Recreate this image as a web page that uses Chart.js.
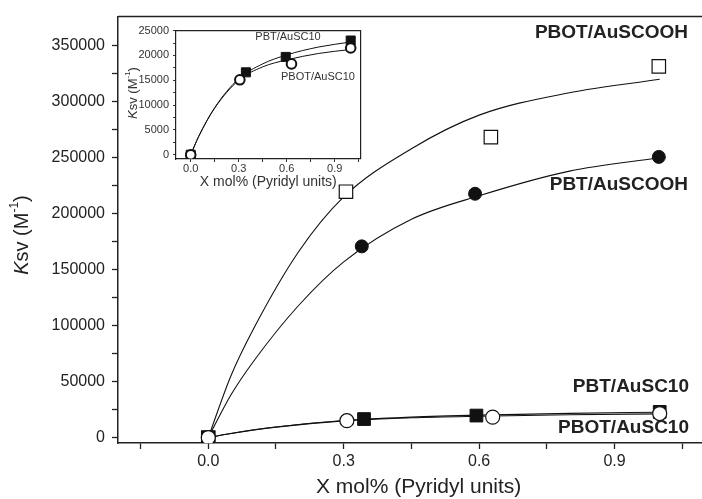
<!DOCTYPE html>
<html lang="en">
<head>
  <meta charset="UTF-8" />
  <title>Ksv vs pyridyl content</title>
  <script src="https://cdn.jsdelivr.net/npm/chart.js"></script>
  <style>
    html, body { margin: 0; padding: 0; background: #fff; overflow: hidden; }
    .wrap { position: relative; width: 730px; height: 499px; }
    #inset { position: absolute; left: 110px; top: 20px; }
  </style>
</head>
<body>

  <div class="wrap">
    <canvas id="main" width="730" height="499"></canvas>
    <canvas id="inset" width="258" height="175"></canvas>
  </div>

  <script>
    const FAMILY = '"Liberation Sans", Arial, sans-serif';

    // measured points
    const pbotCoohX = [0, 0.305, 0.626, 0.998];
    const pbotCoohY = [0, 219600, 268400, 331500];
    const pbtCoohX = [0, 0.34, 0.591, 0.998];
    const pbtCoohY = [0, 170800, 217800, 250700];
    const pbtC10X = [0, 0.345, 0.594, 1.0];
    const pbtC10Y = [0, 16600, 19700, 23000];
    const pbotC10X = [0, 0.307, 0.63, 1.0];
    const pbotC10Y = [0, 15100, 18300, 21500];

    // fitted curves
    const fitCoohX = [0, 0.05, 0.1, 0.2, 0.3, 0.45, 0.6, 0.8, 1.0];
    const fitPbotCooh = [0, 55000, 97000, 166000, 215000, 258000, 288000, 308000, 320000];
    const fitPbtCooh = [0, 38000, 68000, 118000, 157000, 195000, 216000, 238000, 250000];
    const fitC10X = [0, 0.05, 0.15, 0.3, 0.45, 0.6, 0.8, 1.0];
    const fitPbtC10 = [0, 3700, 9500, 15300, 18300, 20100, 21700, 22700];
    const fitPbotC10 = [0, 3700, 9400, 15000, 17700, 19100, 20400, 21200];

    // axis ticks
    const mainXTicks = [-0.15, 0, 0.15, 0.3, 0.45, 0.6, 0.75, 0.9, 1.05];
    const mainYTicks = [0, 25000, 50000, 75000, 100000, 125000, 150000, 175000, 200000, 225000, 250000, 275000, 300000, 325000, 350000];
    const insetXTicks = [0, 0.15, 0.3, 0.45, 0.6, 0.75, 0.9, 1.05];
    const insetYTicks = [0, 2500, 5000, 7500, 10000, 12500, 15000, 17500, 20000, 22500, 25000];
    const xLabelled = [0, 0.3, 0.6, 0.9];

    function pts(xs, ys) {
      return xs.map((x, i) => ({ x: x, y: ys[i] }));
    }

    function xLabel(v) {
      return xLabelled.some(t => Math.abs(t - v) < 1e-6) ? v.toFixed(1) : '';
    }

    // "Ksv (M-1)" rotated, italic K and superscript -1
    function drawKsv(ctx, cx, cy, size, color) {
      ctx.save();
      ctx.translate(cx, cy);
      ctx.rotate(-Math.PI / 2);
      const parts = [
        ['K', `italic ${size}px ${FAMILY}`, 0],
        ['sv (M', `${size}px ${FAMILY}`, 0],
        ['-1', `${Math.round(size * 0.6)}px ${FAMILY}`, -size * 0.38],
        [')', `${size}px ${FAMILY}`, 0]
      ];
      let total = 0;
      parts.forEach(p => { ctx.font = p[1]; p.push(ctx.measureText(p[0]).width); total += p[3]; });
      let x = -total / 2;
      ctx.textBaseline = 'middle';
      ctx.fillStyle = color;
      parts.forEach(p => { ctx.font = p[1]; ctx.fillText(p[0], x, p[2]); x += p[3]; });
      ctx.restore();
    }

    function frame(chart, w) {
      const { ctx, chartArea: a } = chart;
      ctx.save();
      ctx.strokeStyle = '#222';
      ctx.lineWidth = w;
      ctx.beginPath();
      ctx.moveTo(a.left, a.top);
      ctx.lineTo(a.right, a.top);
      ctx.lineTo(a.right, a.bottom);
      ctx.stroke();
      ctx.restore();
    }

    const mainExtras = {
      id: 'mainExtras',
      afterDraw(chart) {
        const ctx = chart.ctx;
        frame(chart, 1.5);
        ctx.save();
        ctx.fillStyle = '#222';
        ctx.font = `bold 19px ${FAMILY}`;
        ctx.textAlign = 'right';
        ctx.textBaseline = 'middle';
        ctx.fillText('PBOT/AuSCOOH', 688, 33);
        ctx.fillText('PBT/AuSCOOH', 688, 185);
        ctx.fillText('PBT/AuSC10', 689, 387);
        ctx.fillText('PBOT/AuSC10', 689, 428);
        ctx.restore();
        drawKsv(ctx, 22, 235, 20, '#222');
      }
    };

    const insetExtras = {
      id: 'insetExtras',
      afterDraw(chart) {
        const ctx = chart.ctx;
        frame(chart, 1.2);
        ctx.save();
        ctx.fillStyle = '#333';
        ctx.font = `11px ${FAMILY}`;
        ctx.textAlign = 'center';
        ctx.textBaseline = 'middle';
        ctx.fillText('PBT/AuSC10', 178, 17);
        ctx.fillText('PBOT/AuSC10', 208, 57);
        ctx.restore();
        drawKsv(ctx, 23, 73, 13, '#333');
      }
    };

    function fitLine(xs, ys, w) {
      return {
        data: pts(xs, ys), showLine: true, pointRadius: 0,
        borderColor: '#111', borderWidth: w, cubicInterpolationMode: 'monotone'
      };
    }

    new Chart(document.getElementById('main'), {
      type: 'scatter',
      data: {
        datasets: [
          { label: 'PBOT/AuSC10', data: pts(pbotC10X, pbotC10Y), pointStyle: 'circle', pointRadius: 7,
            pointBackgroundColor: '#fff', pointBorderColor: '#111', pointBorderWidth: 1.2 },
          { label: 'PBT/AuSC10', data: pts(pbtC10X, pbtC10Y), pointStyle: 'rect', pointRadius: 9,
            pointBackgroundColor: '#111', pointBorderColor: '#111', pointBorderWidth: 1 },
          { label: 'PBOT/AuSCOOH', data: pts(pbotCoohX, pbotCoohY), pointStyle: 'rect', pointRadius: 9.5,
            pointBackgroundColor: '#fff', pointBorderColor: '#111', pointBorderWidth: 1.2 },
          { label: 'PBT/AuSCOOH', data: pts(pbtCoohX, pbtCoohY), pointStyle: 'circle', pointRadius: 6.5,
            pointBackgroundColor: '#111', pointBorderColor: '#111', pointBorderWidth: 1 },
          fitLine(fitCoohX, fitPbotCooh, 1.1),
          fitLine(fitCoohX, fitPbtCooh, 1.1),
          fitLine(fitC10X, fitPbtC10, 1.1),
          fitLine(fitC10X, fitPbotC10, 1.1)
        ]
      },
      options: {
        responsive: false,
        animation: false,
        events: [],
        layout: { padding: { left: 0, top: 14, right: 6, bottom: 0 } },
        plugins: { legend: { display: false }, tooltip: { enabled: false } },
        scales: {
          x: {
            type: 'linear', min: -0.2, max: 1.132,
            afterBuildTicks: s => { s.ticks = mainXTicks.map(v => ({ value: v })); },
            afterFit: s => { s.height = 56; },
            ticks: { callback: xLabel, autoSkip: false, maxRotation: 0, padding: 3,
                     color: '#222', font: { size: 16, family: FAMILY } },
            grid: { drawOnChartArea: false, tickLength: 6, tickColor: '#222', tickWidth: 1.3 },
            border: { color: '#222', width: 1.5 },
            title: { display: true, text: 'X mol% (Pyridyl units)', color: '#222',
                     font: { size: 21, family: FAMILY, lineHeight: 1 }, padding: { top: 0, bottom: 1 } }
          },
          y: {
            type: 'linear', min: -4800, max: 376000,
            afterBuildTicks: s => { s.ticks = mainYTicks.map(v => ({ value: v })); },
            afterFit: s => { s.width = 118; },
            ticks: { callback: v => (v % 50000 === 0 ? String(v) : ''), autoSkip: false, padding: 7,
                     color: '#222', font: { size: 16, family: FAMILY } },
            grid: { drawOnChartArea: false, tickLength: 6, tickColor: '#222', tickWidth: 1.3 },
            border: { color: '#222', width: 1.5 }
          }
        }
      },
      plugins: [mainExtras]
    });

    new Chart(document.getElementById('inset'), {
      type: 'scatter',
      data: {
        datasets: [
          { label: 'PBOT/AuSC10', data: pts(pbotC10X, pbotC10Y), pointStyle: 'circle', pointRadius: 4.8,
            pointBackgroundColor: '#fff', pointBorderColor: '#111', pointBorderWidth: 2 },
          { label: 'PBT/AuSC10', data: pts(pbtC10X, pbtC10Y), pointStyle: 'rect', pointRadius: 6.4,
            pointBackgroundColor: '#111', pointBorderColor: '#111', pointBorderWidth: 1 },
          fitLine(fitC10X, fitPbtC10, 1),
          fitLine(fitC10X, fitPbotC10, 1)
        ]
      },
      options: {
        responsive: false,
        animation: false,
        events: [],
        layout: { padding: { left: 0, top: 9, right: 7, bottom: 0 } },
        plugins: { legend: { display: false }, tooltip: { enabled: false } },
        scales: {
          x: {
            type: 'linear', min: -0.092, max: 1.062,
            afterBuildTicks: s => { s.ticks = insetXTicks.map(v => ({ value: v })); },
            afterFit: s => { s.height = 36; },
            ticks: { callback: xLabel, autoSkip: false, maxRotation: 0, padding: 0,
                     color: '#333', font: { size: 11, family: FAMILY } },
            grid: { drawOnChartArea: false, tickLength: 3, tickColor: '#333', tickWidth: 1 },
            border: { color: '#222', width: 1.2 },
            title: { display: true, text: 'X mol% (Pyridyl units)', color: '#333',
                     font: { size: 14, family: FAMILY, lineHeight: 1 }, padding: { top: 0, bottom: 6 } }
          },
          y: {
            type: 'linear', min: -850, max: 25000,
            afterBuildTicks: s => { s.ticks = insetYTicks.map(v => ({ value: v })); },
            afterFit: s => { s.width = 66; },
            ticks: { callback: v => (v % 5000 === 0 ? String(v) : ''), autoSkip: false, padding: 4,
                     color: '#333', font: { size: 11, family: FAMILY } },
            grid: { drawOnChartArea: false, tickLength: 3, tickColor: '#333', tickWidth: 1 },
            border: { color: '#222', width: 1.2 }
          }
        }
      },
      plugins: [insetExtras]
    });
  </script>

</body>
</html>
